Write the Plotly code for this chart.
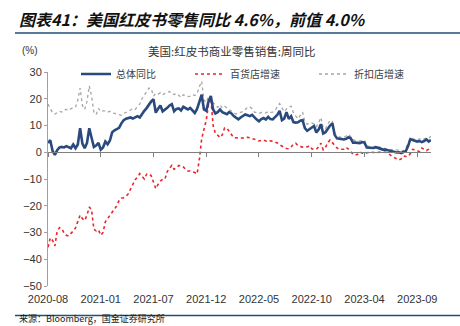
import pandas as pd
import plotly.graph_objects as go

# ---------------- data ----------------
start_date = "2020-08-15"
n_weeks = 168

total_yoy = [3.5, 4.5, 0.5, -1.0, 0.8, 1.8, 2.0, 1.8, 2.3, 2.0, 1.5, 2.9, 1.5, 2.9, 9.0, 3.2, 1.5, 3.5, 9.0, 5.4,
             2.0, 2.5, 3.5, 1.0, 1.8, 4.0, 3.0, 4.4, 7.5, 8.2, 8.5, 9.1, 10.8, 12.0, 12.5, 12.8, 13.0, 12.6, 13.2, 13.5,
             13.0, 14.5, 15.5, 16.5, 18.0, 19.0, 19.8, 14.8, 16.3, 17.5, 15.3, 15.8, 16.6, 17.5, 18.0, 15.3, 16.2, 16.4, 15.6, 17.0,
             16.5, 16.0, 16.6, 15.8, 14.7, 16.2, 18.5, 21.5, 16.0, 15.5, 19.0, 21.0, 16.0, 14.5, 15.0, 16.0, 15.0, 14.7, 14.2, 15.0,
             14.5, 13.5, 12.8, 12.3, 13.0, 13.6, 14.1, 13.8, 13.5, 14.0, 13.0, 12.2, 11.6, 12.4, 12.8, 12.2, 13.2, 12.4, 12.3, 13.3,
             14.0, 15.5, 12.0, 12.6, 15.0, 12.5, 13.5, 11.3, 11.1, 11.2, 11.8, 12.0, 9.0, 8.0, 8.5, 9.2, 9.8, 7.4, 8.5, 10.5,
             7.0, 7.5, 8.8, 10.0, 10.8, 6.5, 5.2, 5.0, 4.9, 4.8, 5.0, 5.6, 5.2, 3.6, 3.6, 3.5, 3.4, 3.8, 3.6, 1.8,
             1.7, 1.8, 1.6, 1.9, 1.5, 1.4, 1.0, 1.0, 0.8, 0.6, 0.4, 0.2, -0.1, 0.0, -0.3, 0.1, 0.4, 2.3, 4.9, 4.6,
             4.3, 4.0, 4.2, 3.8, 4.2, 4.8, 4.0, 4.6]

dept_store = [-35.5, -32.0, -33.0, -35.0, -29.5, -28.2, -28.5, -30.2, -31.0, -31.3, -30.3, -29.5, -28.3, -26.0, -23.5, -24.8, -25.5, -23.5, -20.5, -21.5,
              -28.8, -29.4, -29.0, -31.0, -30.0, -26.0, -24.8, -23.8, -22.5, -21.2, -20.0, -18.0, -17.2, -17.0, -16.5, -15.5, -13.6, -11.8, -10.3, -9.3,
              -8.0, -9.0, -10.0, -8.2, -8.0, -8.8, -11.0, -13.6, -12.0, -10.8, -10.1, -10.0, -7.2, -5.8, -4.9, -6.4, -5.6, -5.0, -5.0, -5.5,
              -6.4, -7.0, -7.0, -7.2, -7.6, -8.1, -2.7, 5.0, 8.5, 12.0, 18.0, 20.3, 10.0, 7.0, 6.4, 5.5, 6.5, 9.1, 9.0, 7.8,
              6.5, 5.4, 5.4, 5.3, 5.4, 5.3, 5.5, 5.6, 5.4, 5.2, 4.8, 4.6, 4.2, 4.4, 4.6, 4.2, 4.0, 4.3, 4.1, 3.8,
              3.5, 2.8, 2.2, 1.8, 1.4, 1.3, 2.0, 3.0, 3.4, 2.5, 2.2, 1.9, 1.9, 2.0, 2.4, 1.3, 1.1, 1.1, 2.0, 3.4,
              0.9, 1.8, 3.6, 4.6, 3.6, 2.6, 1.6, 1.1, 1.0, 1.1, 1.8, 1.2, 0.2, -0.7, -1.0, -0.8, 0.1, -0.3, -0.7, -0.2,
              0.0, 0.0, -0.1, 0.0, 0.1, 0.0, -0.1, 0.1, -0.3, -1.0, -1.5, -2.0, -2.6, -2.9, -2.5, -1.4, -1.6, -1.6, -0.5, 1.1,
              0.9, 0.5, 0.2, 1.6, 1.0, 0.6, 1.2, 2.1]

discount_store = [18.0, 16.6, 14.7, 14.3, 14.8, 15.3, 15.0, 15.8, 16.0, 15.6, 16.3, 16.6, 16.8, 19.5, 24.0, 17.5, 16.0, 19.0, 24.8, 21.0,
                  15.0, 14.1, 16.4, 15.2, 15.5, 15.5, 15.0, 15.3, 14.7, 14.5, 14.3, 14.1, 13.8, 14.5, 14.8, 15.3, 15.8, 16.3, 16.0, 17.0,
                  18.0, 20.0, 21.5, 22.5, 24.0, 23.8, 21.0, 22.0, 21.7, 22.3, 21.5, 22.0, 22.5, 22.7, 21.8, 21.6, 22.0, 21.3, 20.5, 21.5,
                  21.0, 20.8, 21.0, 21.5, 21.2, 22.0, 24.5, 26.5, 19.5, 18.6, 21.0, 20.0, 18.5, 17.5, 16.8, 17.8, 16.5, 17.2, 16.5, 16.0,
                  15.3, 14.8, 14.3, 14.6, 14.8, 15.2, 16.0, 16.8, 17.0, 16.3, 15.0, 14.7, 14.5, 14.9, 14.8, 14.7, 15.2, 14.9, 15.0, 15.6,
                  17.0, 18.2, 16.6, 15.2, 16.2, 17.0, 17.2, 14.8, 13.6, 12.5, 13.8, 15.0, 11.5, 10.5, 10.8, 11.0, 10.6, 9.5, 11.0, 13.0,
                  9.0, 8.8, 10.5, 12.0, 11.5, 7.0, 6.0, 5.6, 5.5, 5.5, 6.0, 6.7, 5.8, 4.7, 4.4, 4.3, 4.2, 4.6, 4.4, 2.5,
                  2.0, 1.8, 2.0, 2.4, 2.3, 1.8, 1.7, 1.3, 1.1, 1.0, 1.0, 0.9, 0.9, 0.7, 0.6, 0.5, 1.5, 3.2, 5.3, 5.0,
                  4.9, 4.8, 5.0, 4.6, 5.0, 5.3, 5.2, 6.0]

tick_labels = ["2020-08", "2021-01", "2021-07", "2021-12", "2022-05", "2022-10", "2023-04", "2023-09"]
y_ticks = [30, 20, 10, 0, -10, -20, -30, -40, -50]
series_names = ["总体同比", "百货店增速", "折扣店增速"]

dates = pd.date_range(start_date, periods=n_weeks, freq="7D")
tick_dates = list(dates[::23])[:len(tick_labels)]

# ---------------- layout geometry ----------------
W, H = 460, 326
L, R, T, B = 48, 29, 72, 40
PW, PH = W - L - R, H - T - B
Y_MIN, Y_MAX = -50, 30


def px(x):
    return (x - L) / PW


def py(y):
    return (H - B - y) / PH


CJK = "Noto Sans CJK SC"
LAT = "Liberation Sans, Arial"

fig = go.Figure()

fig.add_trace(go.Scatter(x=dates, y=discount_store, name=series_names[2], mode="lines",
                         line=dict(color="#a6a6a6", width=1.3, dash="dot"), legend="legend3"))
fig.add_trace(go.Scatter(x=dates, y=dept_store, name=series_names[1], mode="lines",
                         line=dict(color="#e8262b", width=1.6, dash="dot"), legend="legend2"))
fig.add_trace(go.Scatter(x=dates, y=total_yoy, name=series_names[0], mode="lines",
                         line=dict(color="#2a4a7f", width=2.6), legend="legend"))
# helper trace for the zero-line axis with ticks
fig.add_trace(go.Scatter(x=[dates[0], dates[-1]], y=[0, 0], xaxis="x2", mode="lines",
                         line=dict(color="rgba(0,0,0,0)"), showlegend=False, hoverinfo="skip"))

legend_common = dict(yanchor="middle", xanchor="left", orientation="h", bgcolor="rgba(0,0,0,0)",
                     font=dict(family=CJK, size=10, color="#404040"), itemwidth=30)

fig.update_layout(
    width=W, height=H,
    margin=dict(l=L, r=R, t=T, b=B),
    paper_bgcolor="white", plot_bgcolor="white",
    font=dict(family=LAT, size=11, color="#333333"),
    showlegend=True,
    xaxis=dict(range=[dates[0], dates[-1]], tickvals=tick_dates, ticktext=tick_labels,
               showgrid=False, zeroline=False, showline=False, ticks="",
               tickfont=dict(family=LAT, size=11, color="#333333"), ticklabelstandoff=5),
    xaxis2=dict(overlaying="x", matches="x", anchor="free",
                position=(0 - Y_MIN) / (Y_MAX - Y_MIN),
                tickvals=tick_dates, showticklabels=False, ticks="outside", ticklen=4,
                tickcolor="#7f7f7f", showline=True, linecolor="#7f7f7f", linewidth=1,
                showgrid=False, zeroline=False),
    yaxis=dict(range=[Y_MIN, Y_MAX], tickvals=y_ticks, showgrid=False, zeroline=False,
               showline=True, linecolor="#a0a0a0", linewidth=1, ticks="outside", ticklen=3,
               tickcolor="#a0a0a0", tickfont=dict(family=LAT, size=11, color="#333333")),
    legend=dict(x=px(76), y=py(74), **legend_common),
    legend2=dict(x=px(190), y=py(74), **legend_common),
    legend3=dict(x=px(314), y=py(74), **legend_common),
    title=dict(text="<b><i>图表41：美国红皮书零售同比 4.6%，前值 4.0%</i></b>",
               x=19 / W, xref="container", xanchor="left",
               y=1 - 20 / H, yref="container", yanchor="middle",
               font=dict(family=CJK, size=16, color="#111111")),
)

fig.add_annotation(text="美国:红皮书商业零售销售:周同比", x=px(231), y=py(51), xref="paper", yref="paper",
                   showarrow=False, xanchor="center", yanchor="middle",
                   font=dict(family=CJK, size=11.5, color="#333333"))
fig.add_annotation(text="(%)", x=px(20), y=py(50), xref="paper", yref="paper",
                   showarrow=False, xanchor="left", yanchor="middle",
                   font=dict(family=LAT, size=10, color="#333333"))
fig.add_annotation(text="来源：Bloomberg，国金证券研究所", x=px(17), y=py(327), xref="paper", yref="paper",
                   showarrow=False, xanchor="left", yanchor="bottom",
                   font=dict(family=CJK, size=9, color="#1a1a1a"))

fig.add_shape(type="line", xref="paper", yref="paper", x0=px(15), x1=px(460), y0=py(33), y1=py(33),
              line=dict(color="#1f4e79", width=1.5))
fig.add_shape(type="line", xref="paper", yref="paper", x0=px(15), x1=px(460), y0=py(315.5), y1=py(315.5),
              line=dict(color="#1f4e79", width=1.5))

fig.write_html("out.html")
